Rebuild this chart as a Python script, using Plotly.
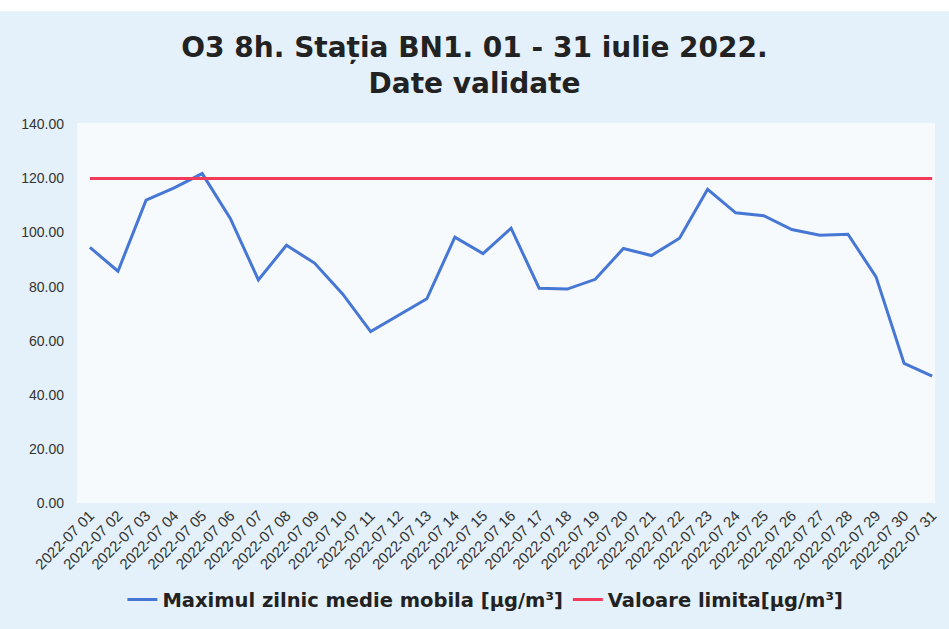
import plotly.graph_objects as go

days = [f"2022-07 {d:02d}" for d in range(1, 32)]
o3_max = [94.5, 85.7, 112.0, 116.5, 121.8, 105.2, 82.5, 95.3, 88.7, 77.3,
          63.4, 69.3, 75.5, 98.3, 92.2, 101.6, 79.4, 79.1, 82.7, 94.1,
          91.5, 97.9, 116.0, 107.3, 106.2, 101.1, 99.0, 99.4, 83.6, 51.6, 46.9]
limit = [120] * len(days)

fig = go.Figure()
fig.add_trace(go.Scatter(x=days, y=o3_max, mode="lines",
                         name="Maximul zilnic medie mobila [µg/m³]",
                         line=dict(color="#4677d4", width=3)))
fig.add_trace(go.Scatter(x=days, y=limit, mode="lines",
                         name="Valoare limita[µg/m³]",
                         line=dict(color="#f23a5a", width=3)))

fig.update_layout(
    width=949, height=629,
    paper_bgcolor="#e4f1fa",
    plot_bgcolor="#f6fafd",
    font=dict(family="Liberation Sans, Arial", color="#333333"),
    title=dict(text="O3 8h. Stația BN1. 01 - 31 iulie 2022.<br>Date validate",
               x=0.5, xanchor="center", y=0.91, yanchor="middle",
               font=dict(family="DejaVu Sans", size=28, color="#222222", weight="bold")),
    margin=dict(l=77, r=9, t=123, b=122),
    xaxis=dict(type="category", range=[-0.46, 30.1], tickangle=-45,
               tickfont=dict(size=15, color="#333333"), showgrid=False,
               zeroline=False, showline=False, ticks=""),
    yaxis=dict(range=[0, 140.5], dtick=20, tickformat=".2f",
               tickfont=dict(size=14, color="#333333"), showgrid=False,
               zeroline=False, showline=False, ticks="", ticklabelstandoff=12),
    legend=dict(orientation="h", x=0.476, xanchor="center", y=-0.255, yanchor="middle",
                bgcolor="rgba(0,0,0,0)", itemwidth=30,
                font=dict(family="DejaVu Sans", size=19.5, color="#222222", weight="bold")),
    shapes=[dict(type="rect", xref="paper", yref="paper", layer="below",
                 x0=-0.1, x1=1.02, y0=(629 - 10 - 122) / 384, y1=1.4,
                 line_width=0, fillcolor="white")],
)

fig.write_html("out.html", config={"displayModeBar": False},
               post_script="document.body.style.margin='0';")
